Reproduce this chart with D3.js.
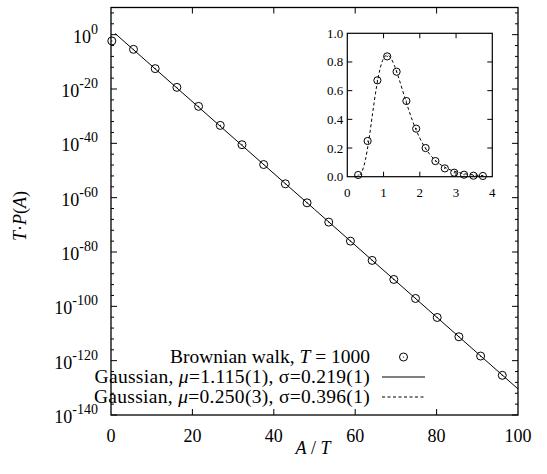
<!DOCTYPE html>
<html>
<head>
<meta charset="utf-8">
<script src="https://cdn.jsdelivr.net/npm/d3@7"></script>
<style>
  body { margin: 0; background: #fff; }
  text { font-family: "Liberation Serif", "Times New Roman", serif; fill: #000; }
</style>
</head>
<body>
<svg id="chart" width="547" height="474"></svg>
<script>
// main panel: Brownian walk points (x = A/T, y = log10 of T·P(A))
var walkX = [0.2, 5.53, 10.86, 16.19, 21.52, 26.85, 32.18, 37.51, 42.84, 48.17,
             53.5, 58.83, 64.16, 69.49, 74.82, 80.15, 85.48, 90.81, 96.14];
var walkLogY = [-2.3, -5.4, -12.5, -19.4, -26.4, -33.4, -40.5, -47.8, -54.9, -61.9,
                -69.0, -76.0, -83.1, -90.1, -97.1, -104.1, -111.2, -118.3, -125.4];
// solid fit line
var fitX = [1.0, 50, 100];
var fitLogY = [0.44, -64.3, -130.4];

// inset: points and dashed fit
var insetX = [0.30, 0.56, 0.83, 1.10, 1.36, 1.63, 1.90, 2.16, 2.43, 2.69, 2.95, 3.22, 3.48, 3.74];
var insetY = [0.012, 0.249, 0.672, 0.839, 0.732, 0.528, 0.335, 0.200, 0.109, 0.058, 0.028, 0.014, 0.007, 0.005];
var dashX = [0.2, 0.3, 0.4, 0.5, 0.6, 0.7, 0.8, 0.9, 1.0, 1.1, 1.2, 1.3, 1.4, 1.6, 1.8, 2.0,
             2.25, 2.5, 2.75, 3.0, 3.25, 3.5, 3.75];
var dashY = [0.0, 0.004, 0.033, 0.118, 0.265, 0.445, 0.617, 0.749, 0.825, 0.849, 0.827, 0.775,
             0.703, 0.540, 0.389, 0.269, 0.164, 0.098, 0.058, 0.034, 0.020, 0.012, 0.007];

var xTicks = [0, 20, 40, 60, 80, 100];
var yTickExp = [0, -20, -40, -60, -80, -100, -120, -140];
var insetXTicks = [0, 1, 2, 3, 4];
var insetYTicks = [0.0, 0.2, 0.4, 0.6, 0.8, 1.0];

var legendRows = [
  {kind: "point", parts: [["Brownian walk, ", ""], ["T", "italic"], [" = 1000", ""]]},
  {kind: "solid", parts: [["Gaussian, ", ""], ["μ", "italic"], ["=1.115(1), σ=0.219(1)", ""]]},
  {kind: "dash", parts: [["Gaussian, ", ""], ["μ", "italic"], ["=0.250(3), σ=0.396(1)", ""]]}
];

var svg = d3.select("#chart");
var L = 111, R = 518, T = 7.5, B = 415;

var x = d3.scaleLinear().domain([0, 100]).range([L, R]);
var y = d3.scaleLog().domain([1e-140, 1e10]).range([B, T]);

var g = svg.append("g");

// ticks (inward, mirrored)
xTicks.forEach(function(t) {
  if (t === 0 || t === 100) return;
  g.append("line").attr("x1", x(t)).attr("x2", x(t)).attr("y1", B).attr("y2", B - 6).attr("stroke", "#000");
  g.append("line").attr("x1", x(t)).attr("x2", x(t)).attr("y1", T).attr("y2", T + 6).attr("stroke", "#000");
});
d3.range(-140, 11, 4).forEach(function(e) {
  var major = e % 20 === 0;
  var len = major ? 6 : 3;
  var yy = y(Math.pow(10, e));
  g.append("line").attr("x1", L).attr("x2", L + len).attr("y1", yy).attr("y2", yy).attr("stroke", "#000");
  g.append("line").attr("x1", R).attr("x2", R - len).attr("y1", yy).attr("y2", yy).attr("stroke", "#000");
});

// frame
g.append("rect").attr("x", L).attr("y", T).attr("width", R - L).attr("height", B - T)
  .attr("fill", "none").attr("stroke", "#000").attr("stroke-width", 1.3);

// tick labels
xTicks.forEach(function(t) {
  g.append("text").attr("x", x(t)).attr("y", B + 27).attr("text-anchor", "middle")
    .style("font-size", "18px").text(t);
});
yTickExp.forEach(function(e) {
  var t = g.append("text").attr("x", 98).attr("y", y(Math.pow(10, e)) + 8)
    .attr("text-anchor", "end").style("font-size", "18px");
  t.append("tspan").text("10");
  t.append("tspan").attr("dy", -9).style("font-size", "14px").text(e);
});

// axis titles
var xt = g.append("text").attr("x", 313).attr("y", 454).attr("text-anchor", "middle").style("font-size", "18px");
xt.append("tspan").style("font-style", "italic").text("A");
xt.append("tspan").text(" / ");
xt.append("tspan").style("font-style", "italic").text("T");

var yt = g.append("text").attr("transform", "translate(26,216) rotate(-90)")
  .attr("text-anchor", "middle").style("font-size", "18px");
yt.append("tspan").style("font-style", "italic").text("T");
yt.append("tspan").text("·");
yt.append("tspan").style("font-style", "italic").text("P");
yt.append("tspan").text("(");
yt.append("tspan").style("font-style", "italic").text("A");
yt.append("tspan").text(")");

// fit line
var fitLine = d3.line()
  .x(function(d, i) { return x(fitX[i]); })
  .y(function(d, i) { return y(Math.pow(10, fitLogY[i])); });
g.append("path").datum(fitX).attr("d", fitLine).attr("fill", "none").attr("stroke", "#000").attr("stroke-width", 1);

function drawPoint(sel, cx, cy, r) {
  sel.append("circle").attr("cx", cx).attr("cy", cy).attr("r", r)
    .attr("fill", "none").attr("stroke", "#000").attr("stroke-width", 1);
  sel.append("circle").attr("cx", cx).attr("cy", cy).attr("r", 0.6).attr("fill", "#000");
}

walkX.forEach(function(v, i) {
  drawPoint(g, x(v), y(Math.pow(10, walkLogY[i])), 4);
});

// legend
var lgTextX = 370, lgSample0 = 382, lgSample1 = 425, lgY0 = 357, lgStep = 20;
legendRows.forEach(function(row, i) {
  var yy = lgY0 + i * lgStep;
  var t = g.append("text").attr("x", lgTextX).attr("y", yy + 6).attr("text-anchor", "end")
    .style("font-size", "19.5px");
  if (row.kind !== "point") t.style("letter-spacing", "0.3px");
  row.parts.forEach(function(p) {
    var s = t.append("tspan").text(p[0]);
    if (p[1]) s.style("font-style", p[1]);
  });
  if (row.kind === "point") {
    drawPoint(g, (lgSample0 + lgSample1) / 2, yy, 4);
  } else {
    g.append("line").attr("x1", lgSample0).attr("x2", lgSample1).attr("y1", yy).attr("y2", yy)
      .attr("stroke", "#000").attr("stroke-width", 1)
      .attr("stroke-dasharray", row.kind === "dash" ? "3,2.5" : null);
  }
});

// inset
var iL = 347.3, iR = 492.3, iT = 33.3, iB = 176.7;
var ix = d3.scaleLinear().domain([0, 4]).range([iL, iR]);
var iy = d3.scaleLinear().domain([0, 1]).range([iB, iT]);
var ig = svg.append("g");

insetXTicks.forEach(function(t) {
  if (t > 0 && t < 4) {
    ig.append("line").attr("x1", ix(t)).attr("x2", ix(t)).attr("y1", iB).attr("y2", iB - 5).attr("stroke", "#000");
    ig.append("line").attr("x1", ix(t)).attr("x2", ix(t)).attr("y1", iT).attr("y2", iT + 5).attr("stroke", "#000");
  }
  ig.append("text").attr("x", ix(t)).attr("y", iB + 20).attr("text-anchor", "middle")
    .style("font-size", "13px").text(t);
});
insetYTicks.forEach(function(t) {
  if (t > 0 && t < 1) {
    ig.append("line").attr("x1", iL).attr("x2", iL + 5).attr("y1", iy(t)).attr("y2", iy(t)).attr("stroke", "#000");
    ig.append("line").attr("x1", iR).attr("x2", iR - 5).attr("y1", iy(t)).attr("y2", iy(t)).attr("stroke", "#000");
  }
  ig.append("text").attr("x", iL - 4).attr("y", iy(t) + 4.5).attr("text-anchor", "end")
    .style("font-size", "13px").text(t.toFixed(1));
});
ig.append("rect").attr("x", iL).attr("y", iT).attr("width", iR - iL).attr("height", iB - iT)
  .attr("fill", "none").attr("stroke", "#000").attr("stroke-width", 1.2);

var dashLine = d3.line()
  .x(function(d, i) { return ix(dashX[i]); })
  .y(function(d, i) { return iy(dashY[i]); })
  .curve(d3.curveMonotoneX);
ig.append("path").datum(dashX).attr("d", dashLine).attr("fill", "none")
  .attr("stroke", "#000").attr("stroke-width", 1).attr("stroke-dasharray", "3,2.5");

insetX.forEach(function(v, i) {
  drawPoint(ig, ix(v), iy(insetY[i]), 3.6);
});
</script>
</body>
</html>
